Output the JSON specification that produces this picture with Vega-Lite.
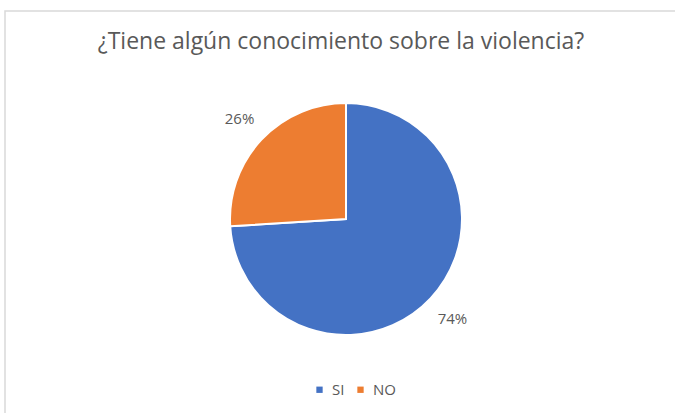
{
  "$schema": "https://vega.github.io/schema/vega-lite/v6.json",
  "autosize": {"type": "none"},
  "padding": {"left": 5, "top": 11, "right": 0, "bottom": 0},
  "width": 682,
  "height": 416,
  "background": "white",
  "view": {"stroke": "#d9d9d9", "strokeWidth": 1.5, "fill": "white"},
  "config": {
    "font": "Open Sans"
  },
  "title": {
    "text": "¿Tiene algún conocimiento sobre la violencia?",
    "orient": "top",
    "anchor": "middle",
    "frame": "group",
    "baseline": "alphabetic",
    "offset": -61,
    "dx": -5,
    "fontSize": 23,
    "fontWeight": "normal",
    "color": "#595959",
    "font": "Open Sans"
  },
  "data": {
    "values": [
      {"respuesta": "SI", "porcentaje": 74, "etiqueta": "74%", "orden": 1},
      {"respuesta": "NO", "porcentaje": 26, "etiqueta": "26%", "orden": 2}
    ]
  },
  "encoding": {
    "theta": {"field": "porcentaje", "type": "quantitative", "stack": true},
    "order": {"field": "orden", "type": "quantitative"},
    "color": {
      "field": "respuesta",
      "type": "nominal",
      "scale": {"domain": ["SI", "NO"], "range": ["#4472C4", "#ED7D31"]},
      "legend": {
        "title": null,
        "orient": "none",
        "direction": "horizontal",
        "legendX": 307,
        "legendY": 371,
        "symbolType": "square",
        "symbolSize": 40,
        "symbolStrokeWidth": 0,
        "labelFontSize": 15,
        "labelColor": "#595959",
        "labelFont": "Open Sans",
        "columnPadding": 8,
        "labelOffset": 5
      }
    }
  },
  "layer": [
    {
      "mark": {"type": "arc", "outerRadius": 116, "stroke": "white", "strokeWidth": 2}
    },
    {
      "mark": {"type": "text", "radius": 146, "fontSize": 15, "font": "Open Sans"},
      "encoding": {
        "text": {"field": "etiqueta", "type": "nominal"},
        "color": {"value": "#595959"}
      }
    }
  ]
}
